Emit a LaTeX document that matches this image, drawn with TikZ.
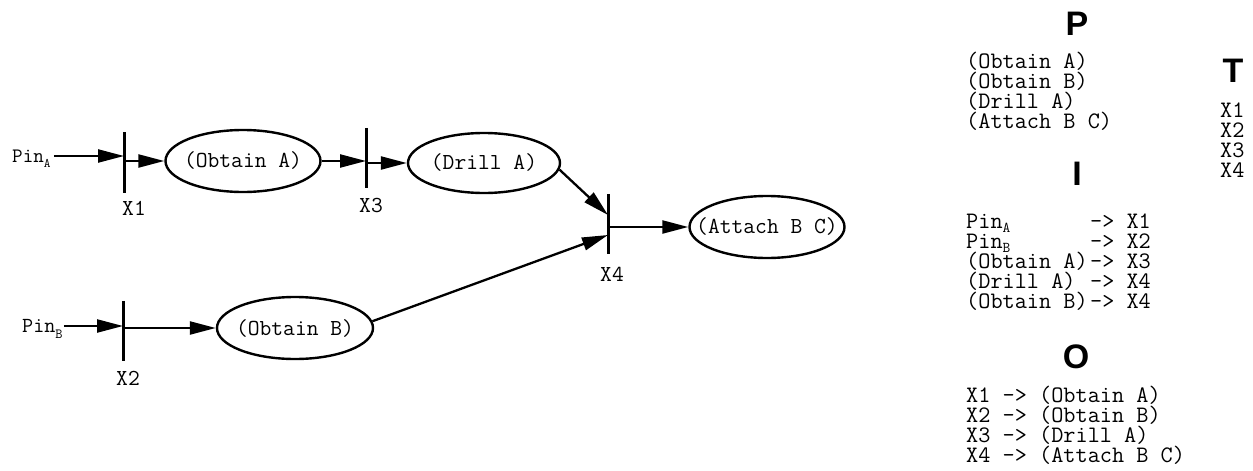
\documentclass[tikz,border=0pt]{standalone}
\usepackage{fontspec}
\setsansfont{Liberation Sans}
\usetikzlibrary{shapes.geometric,arrows.meta}
\newcommand\subsc[3]{\raisebox{-#2pt}{\fontsize{#1}{#1}\selectfont #3}}
\newcommand\lhs[1]{\makebox[5.25em][l]{#1}}
\newcommand\zb[1]{\makebox[0pt]{#1}}
\tikzset{
  place/.style={ellipse, draw, line width=2.4pt, minimum width=155pt, minimum height=62pt, inner sep=0pt, font=\ttfamily\fontsize{22.9}{20}\selectfont},
  trans/.style={minimum width=0pt, minimum height=60pt, inner sep=0pt},
  barline/.style={line width=3pt},
  arr/.style={line width=2.3pt, -{Triangle[length=26pt,width=13pt]}},
  lbl/.style={font=\ttfamily\fontsize{22.9}{20}\selectfont, inner sep=0pt, anchor=base},
  rtxt/.style={font=\ttfamily\fontsize{23.6}{20}\selectfont, inner sep=0pt, anchor=base west},
  hd/.style={font=\sffamily\bfseries\fontsize{34}{34}\selectfont, inner sep=0pt, anchor=base},
}
\begin{document}
\begin{tikzpicture}[x=1pt,y=-1pt]
\useasboundingbox (0,0) rectangle (1253,471);
% places
\node[place] (oA) at (243,161) {\zb{(Obtain A)}};
\node[place, minimum width=152pt, minimum height=60pt] (dA) at (484,163) {\zb{(Drill A)}};
\node[place] (aBC) at (767,227) {\zb{(Attach B C)}};
\node[place, minimum width=156pt] (oB) at (295,328) {\zb{(Obtain B)}};
% transitions
\node[trans] (x1) at (124,162.5) {};
\node[trans] (x3) at (366,158) {};
\node[trans] (x4) at (608,224) {};
\node[trans] (x2) at (123,331) {};
\foreach \t in {x1,x2,x3,x4} \draw[barline] (\t.north) -- (\t.south);
\node[lbl] (lx1) at (134,215) {X1};
\node[lbl] (lx3) at (371,212) {X3};
\node[lbl] (lx4) at (612,281) {X4};
\node[lbl] (lx2) at (128,385) {X2};
% inputs
\node[inner sep=0pt, anchor=base west, font=\ttfamily\fontsize{20.5}{20}\selectfont] (pinA) at (12,162) {Pin\subsc{13}{5}{A}};
\node[inner sep=0pt, anchor=base west, font=\ttfamily\fontsize{21.5}{20}\selectfont] (pinB) at (22,332) {Pin\subsc{14}{6}{B}};
\coordinate (pa) at ([shift={(3pt,6pt)}]pinA.base east);
\coordinate (pb) at ([shift={(1pt,6pt)}]pinB.base east);
\coordinate (x4a) at ([yshift=9pt]x4.center);
\coordinate (x4b) at ([yshift=-11pt]x4.center);
% connectors
\draw[arr] (pa) -- (pa -| x1);
\draw[arr] (x1 |- oA.west) -- (oA.west);
\draw[arr] (oA.east) -- (oA.east -| x3);
\draw[arr] (x3 |- dA.west) -- (dA.west);
\draw[arr] (dA.-5) -- (x4a);
\draw[arr] (pb) -- (pb -| x2);
\draw[arr] (x2 |- oB.west) -- (oB.west);
\draw[arr] (oB.5) -- (x4b);
\draw[arr] (x4 |- aBC.west) -- (aBC.west);
% right side
\node[hd] (hP) at (1077,35) {P};
\node[rtxt] (p1) at (966,68) {(Obtain A)};
\node[rtxt] (p2) at (966,88) {(Obtain B)};
\node[rtxt] (p3) at (966,108) {(Drill A)};
\node[rtxt] (p4) at (966,128) {(Attach B C)};
\node[hd] (hT) at (1233,82) {T};
\node[rtxt] (t1) at (1220,117) {X1};
\node[rtxt] (t2) at (1220,137) {X2};
\node[rtxt] (t3) at (1220,157) {X3};
\node[rtxt] (t4) at (1220,177) {X4};
\node[hd] (hI) at (1077,185) {I};
\node[rtxt] (i1) at (966,228) {\lhs{Pin\subsc{15}{4}{A}}-> X1};
\node[rtxt] (i2) at (966,248) {\lhs{Pin\subsc{15}{4}{B}}-> X2};
\node[rtxt] (i3) at (966,268) {\lhs{(Obtain A)}-> X3};
\node[rtxt] (i4) at (966,288) {\lhs{(Drill A)}-> X4};
\node[rtxt] (i5) at (966,308) {\lhs{(Obtain B)}-> X4};
\node[hd] (hO) at (1076,368) {O};
\node[rtxt] (o1) at (966,402) {X1 -> (Obtain A)};
\node[rtxt] (o2) at (966,422) {X2 -> (Obtain B)};
\node[rtxt] (o3) at (966,442) {X3 -> (Drill A)};
\node[rtxt] (o4) at (966,462) {X4 -> (Attach B C)};
\end{tikzpicture}
\end{document}
